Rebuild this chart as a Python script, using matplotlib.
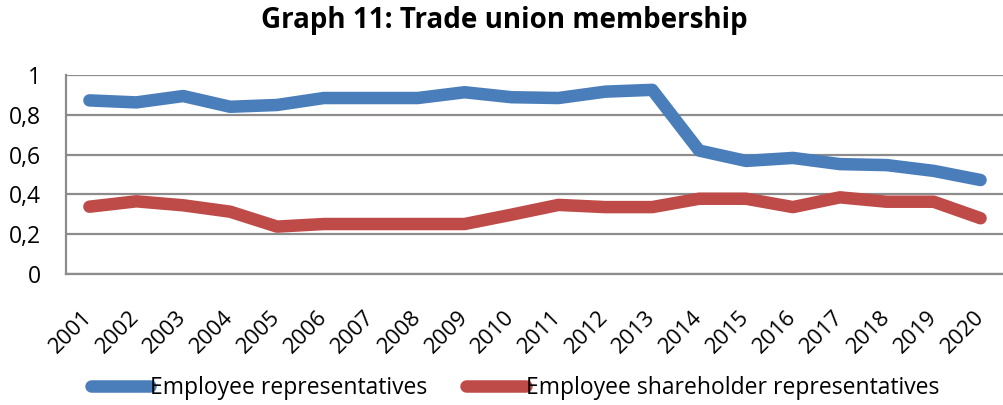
import matplotlib
matplotlib.use('Agg')
import matplotlib.pyplot as plt
import matplotlib.transforms as mtransforms
from matplotlib.ticker import FuncFormatter

# ── data ──────────────────────────────────────────────────────────────────────
years = [str(y) for y in range(2001, 2021)]
employee_reps = [0.872, 0.862, 0.894, 0.840, 0.849, 0.884, 0.884, 0.884, 0.913, 0.888,
                 0.884, 0.916, 0.925, 0.620, 0.568, 0.583, 0.552, 0.547, 0.518, 0.472]
shareholder_reps = [0.338, 0.365, 0.345, 0.313, 0.238, 0.251, 0.251, 0.251, 0.251, 0.298,
                    0.347, 0.336, 0.336, 0.378, 0.378, 0.336, 0.385, 0.363, 0.363, 0.280]
y_ticks = [0, 0.2, 0.4, 0.6, 0.8, 1]

BLUE = '#4A7EBB'
RED = '#BE4B48'
GRID = '#8C8C8C'

plt.rcParams['font.family'] = ['Open Sans', 'DejaVu Sans']

fig = plt.figure(figsize=(10.04, 4.05), dpi=100)
fig.patch.set_facecolor('white')
ax = fig.add_axes([0.0657, 0.3235, 0.9343, 0.4915])

x = list(range(len(years)))
ax.plot(x, employee_reps, color=BLUE, lw=9, solid_capstyle='round',
        solid_joinstyle='round', label='Employee representatives', zorder=3)
ax.plot(x, shareholder_reps, color=RED, lw=9, solid_capstyle='round',
        solid_joinstyle='round', label='Employee shareholder representatives', zorder=3)

ax.set_xlim(-0.5, len(years) - 0.5)
ax.set_ylim(0, 1)
ax.set_yticks(y_ticks)
ax.yaxis.set_major_formatter(FuncFormatter(lambda v, p: f'{v:g}'.replace('.', ',')))
ax.set_xticks(x)
ax.set_xticklabels(years, rotation=45, ha='right', va='center', rotation_mode='anchor')

# shift rotated year labels a bit right, like Excel does
offset = mtransforms.ScaledTranslation(9 / 100, 0, fig.dpi_scale_trans)
for lbl in ax.get_xticklabels():
    lbl.set_transform(lbl.get_transform() + offset)

ax.grid(axis='y', color=GRID, lw=1.6, zorder=1)
ax.set_axisbelow(True)
for s in ['top', 'right']:
    ax.spines[s].set_visible(False)
for s in ['left', 'bottom']:
    ax.spines[s].set_color(GRID)
    ax.spines[s].set_linewidth(1.6)
ax.tick_params(axis='both', length=0, colors='black')
ax.tick_params(axis='y', labelsize=16.5, pad=18)
ax.tick_params(axis='x', labelsize=16, pad=29)

fig.text(0.502, 0.95, 'Graph 11: Trade union membership', fontsize=20,
         fontweight='bold', ha='center', va='center')

fig.legend(loc='center', bbox_to_anchor=(0.513, 0.042), ncol=2, frameon=False,
           fontsize=16.5, handlelength=2.6, handletextpad=0.0, columnspacing=1.7)

fig.savefig('out.png', dpi=100, facecolor='white')
